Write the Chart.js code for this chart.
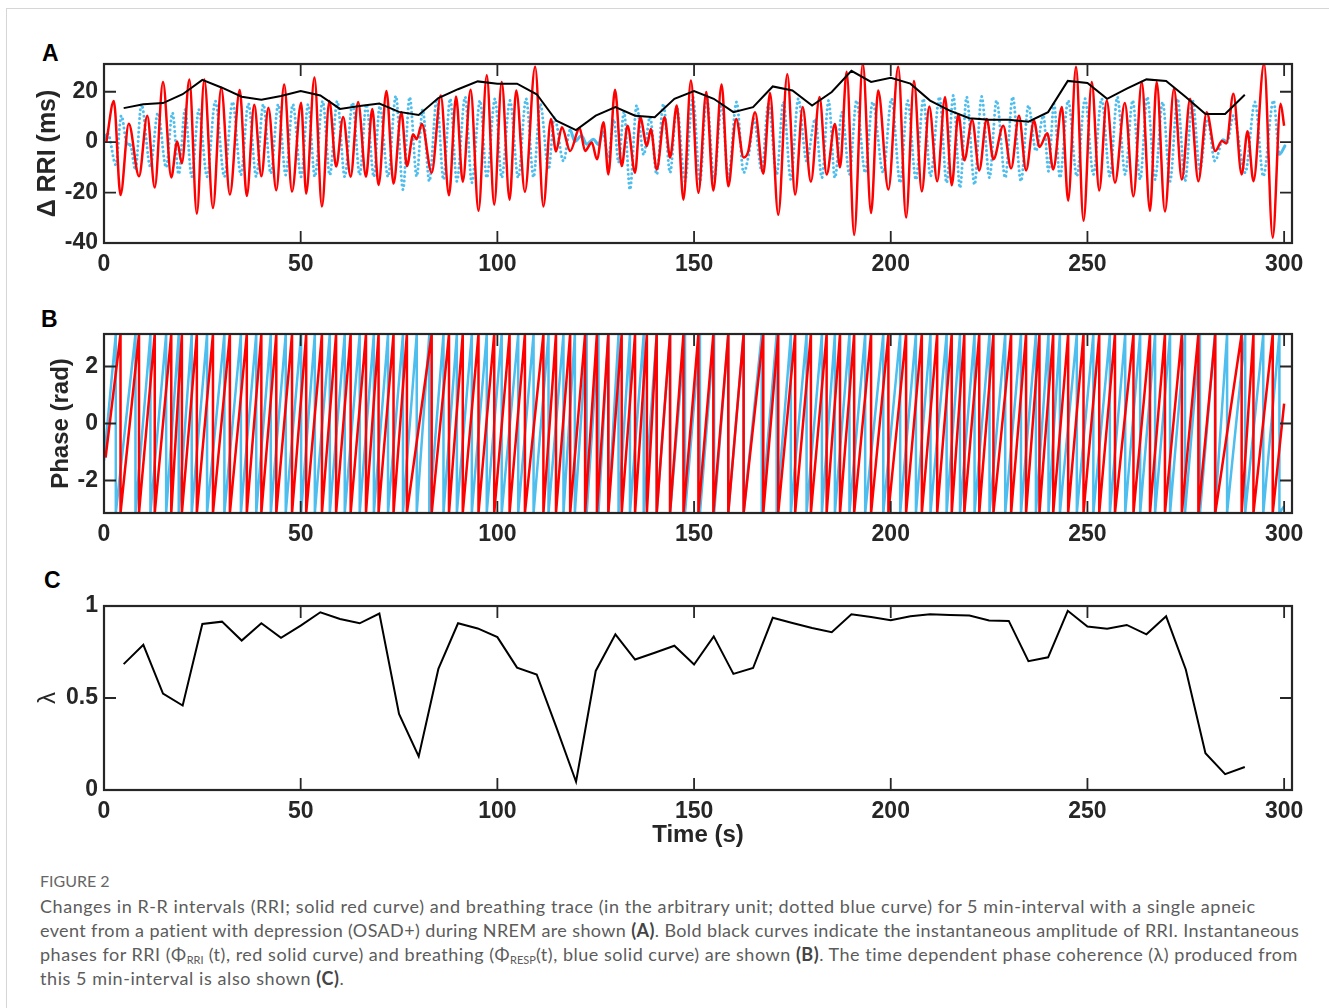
<!DOCTYPE html>
<html>
<head>
<meta charset="utf-8">
<script src="https://cdn.jsdelivr.net/npm/chart.js@4.4.1/dist/chart.umd.min.js"></script>
<style>
  body { margin: 0; background: #fff; width: 1329px; height: 1008px; overflow: hidden; position: relative; font-family: "Liberation Sans", Arial, sans-serif; }
  .frame { position: absolute; left: 6px; top: 8px; width: 1330px; height: 1010px; border-left: 1px solid #d6d6d6; border-top: 1px solid #d6d6d6; }
  canvas { position: absolute; left: 0; }
  .letter { position: absolute; font: bold 23px "Liberation Sans", Arial, sans-serif; line-height: 23px; color: #000; }
  .cap { position: absolute; left: 40px; font-family: Lato, "Open Sans", sans-serif; font-size: 18px; letter-spacing: 0.57px; line-height: 24px; color: #5c5c5c; white-space: nowrap; }
  .cap b { color: #444; }
  .cap sub { font-size: 11px; vertical-align: -3px; line-height: 0; letter-spacing: 0; }
</style>
</head>
<body>
<div class="frame"></div>
<div class="letter" style="left:42px;top:42px">A</div>
<div class="letter" style="left:41px;top:308px">B</div>
<div class="letter" style="left:44px;top:569px">C</div>
<canvas id="chartA" width="1329" height="249" style="top:30px"></canvas>
<canvas id="chartB" width="1329" height="249" style="top:300px"></canvas>
<canvas id="chartC" width="1329" height="282" style="top:572px"></canvas>

<div class="cap" style="top:869px;font-size:16px;letter-spacing:0;color:#666">FIGURE 2</div>
<div class="cap" style="top:894px">Changes in R-R intervals (RRI; solid red curve) and breathing trace (in the arbitrary unit; dotted blue curve) for 5 min-interval with a single apneic</div>
<div class="cap" style="top:918px;letter-spacing:0.38px">event from a patient with depression (OSAD+) during NREM are shown <b>(A)</b>. Bold black curves indicate the instantaneous amplitude of RRI. Instantaneous</div>
<div class="cap" style="top:942px;letter-spacing:0.52px">phases for RRI (Φ<sub>RRI</sub> (t), red solid curve) and breathing (Φ<sub>RESP</sub>(t), blue solid curve) are shown <b>(B)</b>. The time dependent phase coherence (λ) produced from</div>
<div class="cap" style="top:966px">this 5 min-interval is also shown <b>(C)</b>.</div>

<script>
// ---------- data ----------

// Panel A: RRI (red), extrema of the curve
const redT = [0.6, 2.5, 4.2, 6.3, 8.9, 11, 12.9, 15, 17.1, 18.6,
  19.8, 21.7, 23.6, 25.5, 27.7, 29.8, 32, 34.5, 36.3, 38.2,
  40, 41.8, 43.8, 45.8, 47.8, 50.1, 51.4, 53.5, 55.4, 57.3,
  59, 60.8, 62.7, 64.6, 66.6, 68.2, 69.8, 71.8, 73.6, 75.6,
  77, 78.6, 79.5, 80.8, 83.3, 85.6, 87.7, 89.5, 91.2, 93.2,
  95.2, 97.3, 99.2, 101.1, 103.1, 104.8, 107, 109.6, 111.7, 113.6,
  114.9, 116.4, 118.5, 120.9, 122.3, 124, 125.3, 127, 128.2, 129.9,
  131.6, 133.1, 135, 136.3, 138, 139, 140.5, 142.5, 143.9, 145.6,
  147.3, 149.2, 151.1, 153.1, 154.9, 157, 158.7, 160.7, 162.6, 163.8,
  165.5, 167.6, 169.3, 171.4, 173.7, 175.7, 177.6, 179.7, 181.9, 183.7,
  185.8, 187.1, 188.8, 190.7, 192.9, 195, 196.8, 199.4, 201.9, 203.9,
  205.9, 207.9, 209.8, 211.8, 213.8, 215.5, 217.2, 218.7, 220.7, 222.5,
  224.4, 226.1, 228.6, 230.6, 232.6, 234.4, 236.4, 237.8, 239.8, 241.3,
  243.5, 245.1, 247.1, 249, 251.1, 253, 254.9, 257, 259.5, 261.7,
  263.8, 265.9, 267.6, 269.7, 272, 274, 276.1, 278.2, 280.3, 282.5,
  284.2, 285.3, 287.1, 289.2, 290.7, 292.2, 294.9, 297.1, 299.1, 300];
const redV = [0, 16.3, -21, 7.3, -13.5, 10.5, -18, 23.9, -14, 0.3,
  -8.4, 24.9, -28.4, 24.9, -26.1, 21.6, -20.8, 20.7, -21.3, 14.8,
  -13.5, 13.6, -19.1, 22.9, -19.6, 15.6, -20.4, 25.6, -25.5, 16.3,
  -9.7, 10, -13.7, 15.9, -13.7, 13.2, -17, 20.3, -16.4, 11.9,
  -9.5, 3, 1.2, 7.2, -12.1, 18.5, -21.1, 18.1, -15.7, 20.8,
  -27.2, 26.5, -24.8, 23.9, -22.8, 20.5, -19.7, 29.9, -25.5, 9.2,
  -3.7, 5.9, -3.5, 5.6, -3.5, -0.1, -6.8, 7.9, -12.8, 20.8,
  -9.5, 6.5, -12.1, 9.9, -1.5, 5.2, -10.8, 9.9, -6.1, 14.5,
  -22.8, 24.5, -20.1, 19.9, -19.2, 22.9, -17.5, 9.2, -6.1, -3.5,
  11.9, -12.5, 19.5, -28.8, 26.9, -20.8, 13.9, -15.7, 17.9, -12.8,
  7.2, -10, 27.9, -36.8, 31.2, -28.1, 20.5, -18.8, 29.9, -29.9,
  24.3, -19.5, 14.1, -15.5, 17.9, -17.1, 11.2, -7.2, 8.8, -11.2,
  9.2, -6.8, 6.5, -10.4, 10.5, -11.2, 8.5, -1.9, 3.5, -10.8,
  13.9, -23.2, 29.9, -31.2, 23.9, -19.2, 16.5, -16.1, 15.5, -21.5,
  23.9, -27.2, 23.9, -27.5, 21.2, -14.8, 17.2, -15.5, 11.9, -3.5,
  0.5, -0.5, 19.2, -12.8, 4.3, -15.5, 31.2, -37.9, 15.2, 6.5];

// Panel A: breathing (blue dotted), extrema of the curve
const blueT = [0, 1, 3, 4.4, 5.8, 6.7, 8, 9.5, 11.8, 13.7,
  15.8, 17.4, 19, 20.6, 22.3, 24.1, 26.2, 28.3, 30.6, 32.7,
  34.8, 36.7, 38.7, 40.5, 42.4, 44.3, 46.2, 48, 50.1, 51.9,
  53.6, 55.6, 57.4, 59.3, 61.2, 63.2, 65, 66.7, 68.6, 70.1,
  72.2, 74.2, 76, 77.7, 79.5, 81, 82.7, 84.6, 86.3, 88,
  89.7, 91.8, 93.5, 95.6, 97.3, 99.4, 101.1, 103.2, 105.3, 107.3,
  109.2, 110.9, 113, 114.5, 116.8, 118.5, 119.7, 121.4, 122.7, 124.4,
  125.7, 126.8, 128.2, 129.6, 130.8, 132.2, 133.7, 135.4, 137.2, 138.8,
  140.5, 142.2, 143.9, 145.6, 147.7, 149.7, 151.5, 153.2, 155.1, 157,
  158.7, 160.8, 162.6, 164, 165.2, 167.2, 168.9, 171, 172.7, 174.6,
  176.5, 178.6, 180.8, 182.5, 184.2, 185.8, 187.6, 189.5, 191.3, 193.5,
  195.4, 198.1, 200.2, 202.4, 204.3, 206.4, 208.3, 210.1, 212.4, 214.2,
  215.9, 217.6, 219.3, 221.3, 223.1, 225.1, 226.9, 229.1, 231, 233.1,
  235, 236.9, 238.8, 240.1, 241.5, 243, 245.1, 247.3, 249.4, 251.5,
  253.6, 255.7, 257.6, 259.6, 261.5, 263.4, 265.2, 267.2, 269.1, 271,
  272.9, 274.8, 276.7, 278.6, 280.5, 282.4, 284.5, 285.5, 287.1, 290.1,
  292.6, 294.7, 297.3, 298.8, 300.2];
const blueV = [1, 3.3, -9, 10.5, -0.5, -1.2, -11, 15, -9.7, 11.6,
  -10, 11.6, -12.7, 12.9, -13.7, 12.9, -13.7, 16.3, -13.7, 15.9,
  -13, 15.3, -13.7, 15, -12.4, 15, -13, 15, -13.7, 15,
  -13.7, 16.3, -13, 16.3, -13.7, 15.6, -13, 15, -13.7, 14.3,
  -13.7, 18.3, -18.8, 17.8, -13.6, 13, -15.5, 17.2, -14.8, 17.2,
  -15.5, 17.9, -16.1, 16.5, -14.1, 17.2, -14.1, 16.5, -14.1, 17.2,
  -13.9, 15.2, -10.8, 9.9, -7.5, 4.8, 0.3, 2.5, -0.8, 1.2,
  -1, 4, -6, 9, -8, 12, -18.8, 14.5, -5, 10,
  -12.8, 15.2, -12.1, 13.9, -15.5, 17.9, -15.5, 17.9, -14.8, 15.2,
  -14.1, 15.9, -12.1, -4, 9.2, -11.5, 15.2, -12.8, 15.9, -14.8,
  17.2, -7.5, 9.2, -14.1, 16.5, -14.1, 11.9, -12.8, 16.5, -12.1,
  15.9, -12.1, 17.2, -16.1, 16.5, -14.8, 17.2, -13.5, 17.9, -16.1,
  18.5, -18.1, 17.9, -16.8, 18.1, -14.1, 16.5, -14.1, 17.9, -15.5,
  14.5, -3.5, 10.5, -11.5, 15.2, -14.1, 16.5, -13.5, 17.2, -12.8,
  17.2, -13.5, 17.9, -12.8, 16.5, -14.8, 17.9, -14.8, 15.9, -15.5,
  17.2, -15.5, 16.5, -10.8, 9.2, -7.5, 1, 0, 10.5, -12.1,
  15.9, -13.5, 16.5, -4.8, -1.5];

// Panel A: instantaneous amplitude (black) and panel C: lambda, every 5 s
const winT = [5, 10, 15, 20, 25, 30, 35, 40, 45, 50, 55, 60, 65, 70, 75, 80, 85, 90, 95, 100,
  105, 110, 115, 120, 125, 130, 135, 140, 145, 150, 155, 160, 165, 170, 175, 180, 185, 190, 195, 200,
  205, 210, 215, 220, 225, 230, 235, 240, 245, 250, 255, 260, 265, 270, 275, 280, 285, 290];
const ampV = [13.5, 15, 15.5, 19, 24.7, 21.6, 18, 16.8, 18.3, 20.3, 18.5, 13.2, 14.3, 15.3, 12, 10.8, 17.5, 21, 24.1, 23.2,
  23.2, 19, 8.5, 4.8, 10.5, 13.9, 10.5, 9.9, 17.2, 20.3, 17.2, 11.9, 13.9, 22.1, 20.5, 14.5, 19.9, 28.3, 23.9, 25.5,
  23.2, 16.5, 12.5, 9.5, 8.9, 8.9, 8.1, 11.9, 24.3, 23.5, 17.2, 21.2, 24.9, 24.3, 17.9, 11.2, 11.2, 18.8];
const lambdaV = [0.684, 0.789, 0.524, 0.459, 0.902, 0.915, 0.812, 0.906, 0.827, 0.893,
  0.966, 0.929, 0.906, 0.959, 0.414, 0.182, 0.658, 0.906, 0.878, 0.831,
  0.665, 0.628, 0.34, 0.045, 0.647, 0.846, 0.709, 0.746, 0.784, 0.682,
  0.835, 0.631, 0.663, 0.936, 0.908, 0.880, 0.858, 0.955, 0.940, 0.923,
  0.944, 0.955, 0.951, 0.948, 0.921, 0.919, 0.700, 0.721, 0.974, 0.888,
  0.876, 0.897, 0.846, 0.944, 0.655, 0.200, 0.086, 0.125];

// Panel B: times where the phases wrap from +pi to -pi, plus start / end phase
const redWraps = [4.2, 8.9, 12.9, 17.1, 19.8, 23.6, 27.7, 32, 36.3, 40, 43.8, 47.8, 51.4, 55.4, 59, 62.7,
  66.6, 69.8, 73.6, 77, 83.3, 87.7, 91.2, 95.2, 99.2, 103.1, 107, 111.7, 114.9, 118.5, 122.3, 125.3,
  128.2, 131.6, 135, 138, 140.5, 143.9, 147.3, 151.1, 154.9, 158.7, 162.6, 167.6, 171.4, 175.7, 179.7,
  183.7, 187.1, 190.7, 195, 199.4, 203.9, 207.9, 211.8, 215.5, 218.7, 222.5, 226.1, 230.6, 234.4,
  237.8, 241.3, 245.1, 249, 253, 257, 261.7, 265.9, 269.7, 274, 278.2, 282.5, 289.2, 292.2, 297.1];
const redPhaseStart = [0.4, -1.2];
const redPhaseEnd = [300, 0.7];
const blueWraps = [3, 8, 11.8, 15.8, 19, 22.3, 26.2, 30.6, 34.8, 38.7, 42.4, 46.2, 50.1, 53.6, 57.4,
  61.2, 65, 68.6, 72.2, 76, 79.5, 82.7, 86.3, 89.7, 93.5, 97.3, 101.1, 105.3, 109.2, 113, 116.8,
  119.7, 122.7, 125.7, 128.2, 130.8, 133.7, 137.2, 140.5, 143.9, 147.7, 151.5, 155.1, 158.7, 162.6,
  167.2, 171, 174.6, 178.6, 182.5, 185.8, 189.5, 193.5, 198.1, 202.4, 206.4, 210.1, 214.2, 217.6,
  221.3, 225.1, 229.1, 233.1, 236.9, 240.1, 243, 247.3, 251.5, 255.7, 259.6, 263.4, 267.2, 271,
  274.8, 278.6, 282.4, 285.5, 290.1, 294.7, 298.8];
const bluePhaseStart = [0, -1.3];
const bluePhaseEnd = [300, -2.9];

const xTicks = [0, 50, 100, 150, 200, 250, 300];

// ---------- styling ----------
const RED = '#ff0000';
const BLUE = '#4dbeee';
const AXIS = '#262626';
const tickFont = { family: 'Liberation Sans', size: 23, weight: 'bold' };

const toPoints = (ts, vs) => ts.map((t, i) => ({ x: t, y: vs[i] }));

function phasePoints(start, wraps, end) {
  const pts = [{ x: start[0], y: start[1] }];
  wraps.forEach(w => {
    pts.push({ x: w, y: Math.PI });
    pts.push({ x: w, y: -Math.PI });
  });
  pts.push({ x: end[0], y: end[1] });
  return pts;
}

// matlab-like box with inward ticks on all four sides
const matlabBox = {
  id: 'matlabBox',
  afterDraw(chart) {
    const { ctx, chartArea: a, scales: { x, y } } = chart;
    ctx.save();
    ctx.strokeStyle = AXIS;
    ctx.lineWidth = 1.8;
    ctx.beginPath();
    x.ticks.forEach(t => {
      const px = x.getPixelForValue(t.value);
      ctx.moveTo(px, a.bottom); ctx.lineTo(px, a.bottom - 12);
      ctx.moveTo(px, a.top); ctx.lineTo(px, a.top + 12);
    });
    y.ticks.forEach(t => {
      const py = y.getPixelForValue(t.value);
      ctx.moveTo(a.left, py); ctx.lineTo(a.left + 12, py);
      ctx.moveTo(a.right, py); ctx.lineTo(a.right - 12, py);
    });
    ctx.stroke();
    ctx.lineWidth = 2.2;
    ctx.strokeRect(a.left, a.top, a.right - a.left, a.bottom - a.top);
    ctx.restore();
  }
};

function makePanel(id, datasets, y, xTitle, xAxisHeight) {
  return new Chart(document.getElementById(id), {
    type: 'line',
    data: { datasets },
    options: {
      responsive: false,
      animation: false,
      events: [],
      layout: { padding: { top: 34, right: 37, left: 0, bottom: 0 } },
      plugins: { legend: { display: false }, tooltip: { enabled: false } },
      elements: { point: { radius: 0 } },
      scales: {
        x: {
          type: 'linear', min: 0, max: 302,
          grid: { display: false, drawTicks: false },
          border: { display: false },
          afterBuildTicks: s => { s.ticks = xTicks.map(v => ({ value: v })); },
          ticks: { color: AXIS, font: tickFont, padding: 8, maxRotation: 0, autoSkip: false },
          title: xTitle
            ? { display: true, text: xTitle, color: AXIS, font: { family: 'Liberation Sans', size: 24, weight: 'bold' }, padding: { top: 0, bottom: 4 } }
            : { display: false },
          afterFit: s => { s.height = xAxisHeight; }
        },
        y: {
          type: 'linear', min: y.min, max: y.max,
          grid: { display: false, drawTicks: false },
          border: { display: false },
          ticks: { stepSize: y.step, includeBounds: false, color: AXIS, font: tickFont, padding: 6,
                   callback: v => String(v) },
          title: { display: true, text: y.title, color: AXIS, font: y.titleFont, padding: { top: y.titlePad, bottom: 0 } },
          afterFit: s => { s.width = 104; }
        }
      }
    },
    plugins: [matlabBox]
  });
}

// Panel A
makePanel('chartA', [
  { data: toPoints(winT, ampV), borderColor: '#000', borderWidth: 2, tension: 0 },
  { data: toPoints(redT, redV), borderColor: RED, borderWidth: 2.5, cubicInterpolationMode: 'monotone' },
  {
    data: toPoints(blueT, blueV), borderColor: BLUE, borderWidth: 3, cubicInterpolationMode: 'monotone',
    borderCapStyle: 'round', borderDash: [],
    segment: { borderDash: c => Math.abs(c.p1.parsed.y - c.p0.parsed.y) > 7 ? [0.01, 4.5] : [] }
  }
], { min: -40, max: 31, step: 20, title: '\u0394 RRI (ms)', titlePad: 33,
     titleFont: { family: 'Liberation Sans', size: 25, weight: 'bold' } }, null, 36);

// Panel B
makePanel('chartB', [
  { data: phasePoints(redPhaseStart, redWraps, redPhaseEnd), borderColor: RED, borderWidth: 2.5, tension: 0 },
  { data: phasePoints(bluePhaseStart, blueWraps, bluePhaseEnd), borderColor: BLUE, borderWidth: 2.5, tension: 0 }
], { min: -Math.PI, max: Math.PI, step: 2, title: 'Phase (rad)', titlePad: 47,
     titleFont: { family: 'Liberation Sans', size: 24, weight: 'bold' } }, null, 36);

// Panel C
makePanel('chartC', [
  { data: toPoints(winT, lambdaV), borderColor: '#000', borderWidth: 2, tension: 0 }
], { min: 0, max: 1, step: 0.5, title: '\u03bb', titlePad: 34,
     titleFont: { family: 'Liberation Sans', size: 24, weight: 'normal' } }, 'Time (s)', 64);
</script>
</body>
</html>
